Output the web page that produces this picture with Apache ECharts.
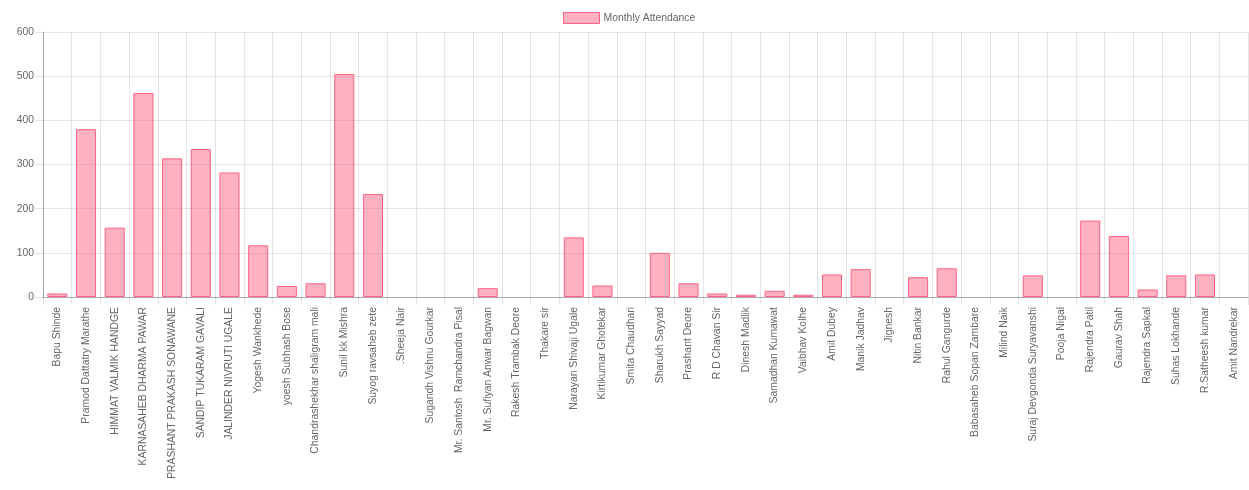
<!DOCTYPE html>
<html>
<head>
<meta charset="utf-8">
<script src="https://cdn.jsdelivr.net/npm/echarts@6/dist/echarts.min.js"></script>
<style>
html,body{margin:0;padding:0;background:#fff;}
#chart{width:1249px;height:490px;}
</style>
</head>
<body>
<div id="chart"></div>
<script>
const categories = [
  "Bapu Shinde","Pramod Dattatry Marathe","HIMMAT VALMIK HANDGE","KARNASAHEB DHARMA PAWAR",
  "PRASHANT PRAKASH SONAWANE","SANDIP TUKARAM GAVALI","JALINDER NIVRUTI UGALE","Yogesh Wankhede",
  "yoesh Subhash Bose","Chandrashekhar shaligram mali","Sunil kk Mishra","Suyog ravsaheb zete",
  ".Sheeja Nair","Sugandh Vishnu Gourkar","Mr. Santosh  Ramchandra Pisal","Mr. Sufiyan Anwar Bagwan",
  "Rakesh Trambak Deore","Thakare sir","Narayan Shivaji Ugale","Kirtikumar Ghotekar",
  "Smita Chaudhari","Sharukh Sayyad","Prashant Deore","R D Chavan Sir","Dinesh Madlik",
  "Samadhan Kumawat","Vaibhav Kolhe","Amit Dubey","Manik Jadhav","Jignesh","Nitin Bankar",
  "Rahul Gangurde","Babasaheb Sopan Zambare","Milind Naik","Suraj Devgonda Suryavanshi",
  "Pooja Nigal","Rajendra Patil","Gaurav Shah","Rajendra Sapkal","Suhas Lokhande",
  "R.Satheesh kumar","Amit Nandrekar"
];
const attendance = [
  8,380,157,462,314,335,282,117,25,31,505,233,
  0,0,0,20,0,0,135,26,0,100,31,8,5,14,5,
  51,63,0,45,65,0,0,49,0,173,138,17,49,51,0
];
const seriesName = "Monthly Attendance";
const yTicks = { min: 0, max: 600, interval: 100 };

const chart = echarts.init(document.getElementById('chart'), null, {renderer:'canvas'});
const font = "'Liberation Sans', Arial, Helvetica, sans-serif";
const fs = 10.4;
chart.setOption({
  animation: false,
  textStyle: { fontFamily: font },
  legend: {
    top: 12, left: 563, padding: 0,
    itemWidth: 36, itemHeight: 11, itemGap: 10,
    icon: 'rect',
    itemStyle: { borderWidth: 1 },
    textStyle: { color: '#666', fontSize: fs, fontFamily: font, padding: [0,0,0,-1] },
    data: [seriesName]
  },
  grid: { left: 43, right: 1, top: 32, bottom: 193, containLabel: false, outerBoundsMode: 'none' },
  xAxis: {
    type: 'category',
    data: categories,
    boundaryGap: true,
    axisLine: { show: true, lineStyle: { color: 'rgba(0,0,0,0.25)', width: 1 } },
    axisTick: { show: true, length: 8, interval: 0, alignWithLabel: false, lineStyle: { color: 'rgba(0,0,0,0.1)' } },
    splitLine: { show: true, interval: 0, lineStyle: { color: 'rgba(0,0,0,0.1)', width: 1 } },
    axisLabel: { interval: 0, rotate: 90, margin: 10, color: '#666', fontSize: fs, fontFamily: font }
  },
  yAxis: {
    type: 'value',
    min: yTicks.min, max: yTicks.max, interval: yTicks.interval,
    axisLine: { show: true, lineStyle: { color: 'rgba(0,0,0,0.25)', width: 1 } },
    axisTick: { show: true, length: 8, lineStyle: { color: 'rgba(0,0,0,0.1)' } },
    splitLine: { show: true, lineStyle: { color: 'rgba(0,0,0,0.1)', width: 1 } },
    axisLabel: { margin: 9, color: '#666', fontSize: fs, fontFamily: font }
  },
  series: [{
    name: seriesName,
    type: 'bar',
    data: attendance.map(v => v === 0 ? { value: v, itemStyle: { borderWidth: 0 } } : v),
    barWidth: '70%',
    itemStyle: { color: 'rgba(255,99,132,0.5)', borderColor: 'rgb(255,99,132)', borderWidth: 1 }
  }]
});
</script>
</body>
</html>
